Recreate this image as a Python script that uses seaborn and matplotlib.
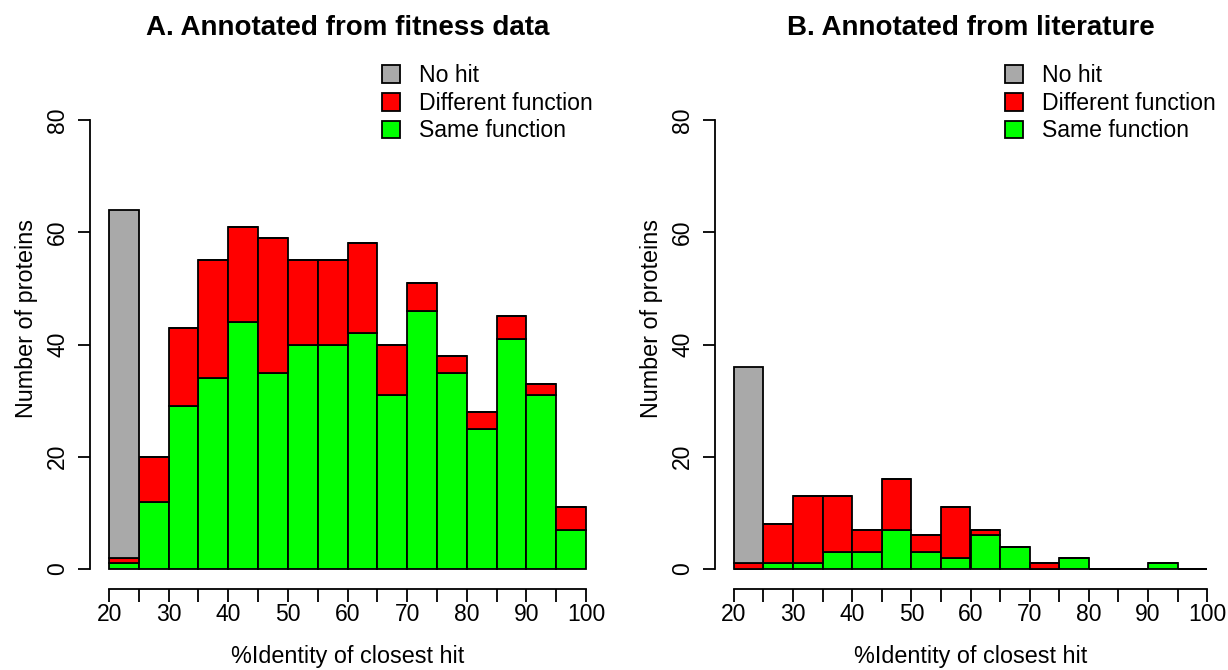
#!/usr/bin/env python
# -*- coding: utf-8 -*-
"""Stacked histograms: %identity of closest hit, fitness-data vs literature annotations"""

import numpy as np
import pandas as pd
import seaborn as sns
import matplotlib
matplotlib.use('Agg')
import matplotlib.pyplot as plt
from matplotlib.patches import Patch

# bins of 5% identity, 20-25 ... 95-100
bin_lo = [20, 25, 30, 35, 40, 45, 50, 55, 60, 65, 70, 75, 80, 85, 90, 95]
bin_edges = [20, 25, 30, 35, 40, 45, 50, 55, 60, 65, 70, 75, 80, 85, 90, 95, 100]

# A. annotated from fitness data
fit_same = [1, 12, 29, 34, 44, 35, 40, 40, 42, 31, 46, 35, 25, 41, 31, 7]
fit_diff = [1, 8, 14, 21, 17, 24, 15, 15, 16, 9, 5, 3, 3, 4, 2, 4]
fit_nohit = [62, 0, 0, 0, 0, 0, 0, 0, 0, 0, 0, 0, 0, 0, 0, 0]

# B. annotated from literature
lit_same = [0, 1, 1, 3, 3, 7, 3, 2, 6, 4, 0, 2, 0, 0, 1, 0]
lit_diff = [1, 7, 12, 10, 4, 9, 3, 9, 1, 0, 1, 0, 0, 0, 0, 0]
lit_nohit = [35, 0, 0, 0, 0, 0, 0, 0, 0, 0, 0, 0, 0, 0, 0, 0]

kinds = ['No hit', 'Different function', 'Same function']
colors = {'No hit': '#A9A9A9', 'Different function': '#FF0000', 'Same function': '#00FF00'}
x_ticks = [20, 25, 30, 35, 40, 45, 50, 55, 60, 65, 70, 75, 80, 85, 90, 95, 100]
x_labels = ['20', '', '30', '', '40', '', '50', '', '60', '', '70', '', '80', '', '90', '', '100']
y_ticks = [0, 20, 40, 60, 80]

sns.set_style('ticks')
plt.rcParams['font.family'] = ['Liberation Sans', 'DejaVu Sans']
plt.rcParams['text.color'] = 'black'
plt.rcParams['axes.labelcolor'] = 'black'
plt.rcParams['xtick.color'] = 'black'
plt.rcParams['ytick.color'] = 'black'
plt.rcParams['axes.edgecolor'] = 'black'

FS = 16.5


def make_frame(same, diff, nohit):
    """把三组计数拼成长表"""
    rows = []
    for lo, s, d, n in zip(bin_lo, same, diff, nohit):
        rows.append((lo + 2.5, 'Same function', s))
        rows.append((lo + 2.5, 'Different function', d))
        rows.append((lo + 2.5, 'No hit', n))
    return pd.DataFrame(rows, columns=['identity', 'kind', 'count'])


def draw_panel(ax, df, title):
    sns.histplot(data=df, x='identity', weights='count', hue='kind',
                 hue_order=kinds, multiple='stack', bins=bin_edges,
                 palette=colors, alpha=1, edgecolor='black', linewidth=1.3,
                 legend=False, ax=ax)

    ax.set_xlim(16.8, 103.2)
    ax.set_ylim(-3.56, 92.65)
    ax.set_xticks(x_ticks)
    ax.set_xticklabels(x_labels)
    ax.set_yticks(y_ticks)
    ax.set_yticklabels([str(v) for v in y_ticks], rotation=90, va='center')

    # R 风格坐标轴: 只画到刻度范围
    for side in ['top', 'right']:
        ax.spines[side].set_visible(False)
    ax.spines['left'].set_bounds(0, 80)
    ax.spines['bottom'].set_bounds(20, 100)
    ax.spines['left'].set_linewidth(1.3)
    ax.spines['bottom'].set_linewidth(1.3)
    ax.tick_params(axis='both', direction='out', width=1.3, labelsize=FS)
    ax.tick_params(axis='y', length=9, pad=6)
    ax.tick_params(axis='x', length=9, pad=1)

    ax.set_xlabel('%Identity of closest hit', fontsize=16.8, labelpad=14)
    ax.set_ylabel('Number of proteins', fontsize=16.8, labelpad=6)
    ax.set_title(title, fontsize=20, fontweight='bold', pad=10)

    handles = [Patch(facecolor=colors[k], edgecolor='black', linewidth=1.3) for k in kinds]
    ax.legend(handles, kinds, loc='upper left', bbox_to_anchor=(0.567, 0.972),
              frameon=False, fontsize=16.6, borderaxespad=0, borderpad=0,
              handlelength=0.8, handleheight=0.8, handletextpad=0.8,
              labelspacing=0.2)


def main():
    fig = plt.figure(figsize=(12.28, 6.70), dpi=100)
    ax_a = fig.add_axes([90 / 1228, 81 / 670, 515 / 1228, 540 / 670])
    ax_b = fig.add_axes([715 / 1228, 81 / 670, 511 / 1228, 540 / 670])

    draw_panel(ax_a, make_frame(fit_same, fit_diff, fit_nohit), 'A. Annotated from fitness data')
    draw_panel(ax_b, make_frame(lit_same, lit_diff, lit_nohit), 'B. Annotated from literature')

    fig.savefig('out.png', dpi=100)
    print('saved out.png')


if __name__ == '__main__':
    main()
